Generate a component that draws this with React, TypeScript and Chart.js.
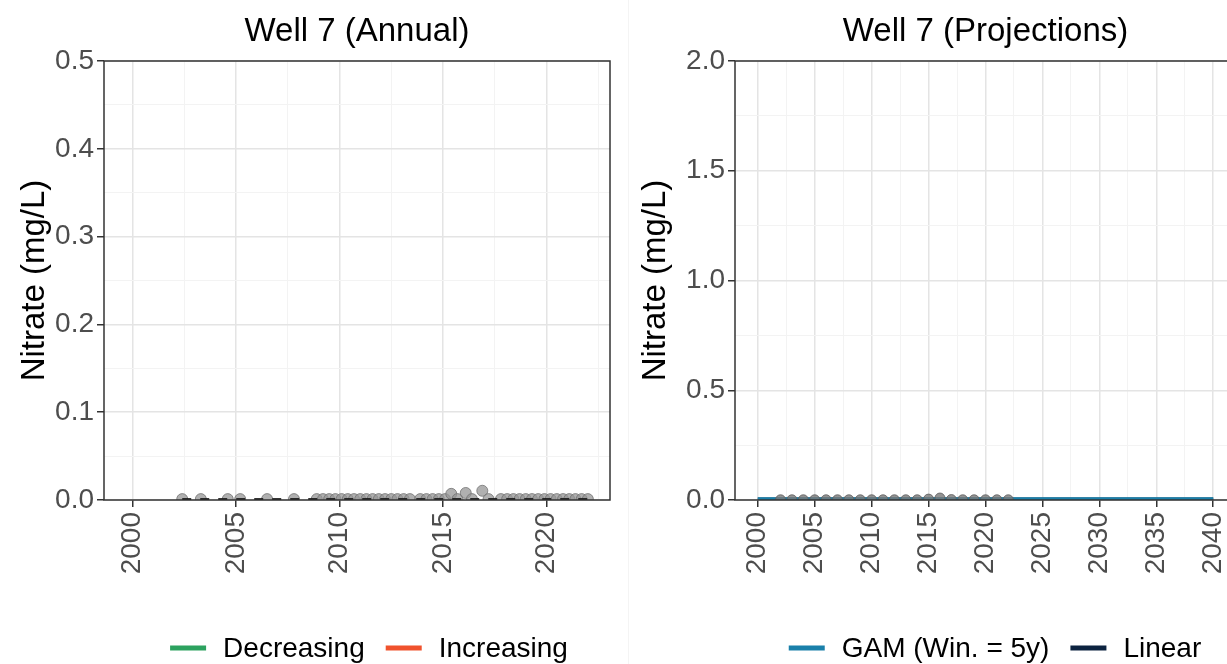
import React, { useEffect, useRef } from "react";
import { Chart, registerables } from "chart.js";

Chart.register(...registerables);

const FONT = "'Liberation Sans', Arial, Helvetica, sans-serif";

// ---------- Left panel: Well 7 (Annual) ----------
const annualYears = [
  2002.4, 2003.3, 2004.6, 2005.2, 2006.5, 2007.8, 2008.9, 2009.2, 2009.5, 2009.8,
  2010.1, 2010.4, 2010.7, 2011.0, 2011.3, 2011.6, 2011.9, 2012.2, 2012.5, 2012.8,
  2013.1, 2013.4, 2013.9, 2014.2, 2014.5, 2014.8, 2015.1, 2015.4, 2015.7, 2016.1,
  2016.4, 2016.9, 2017.2, 2017.8, 2018.1, 2018.4, 2018.7, 2019.0, 2019.3, 2019.6,
  2019.9, 2020.2, 2020.5, 2020.8, 2021.1, 2021.4, 2021.7, 2022.0,
];
const annualValues = [
  0.001, 0.001, 0.001, 0.001, 0.001, 0.001, 0.001, 0.001, 0.001, 0.001,
  0.001, 0.001, 0.001, 0.001, 0.001, 0.001, 0.001, 0.001, 0.001, 0.001,
  0.001, 0.001, 0.001, 0.001, 0.001, 0.001, 0.001, 0.007, 0.001, 0.008,
  0.001, 0.0105, 0.001, 0.001, 0.001, 0.001, 0.001, 0.001, 0.001, 0.001,
  0.001, 0.001, 0.001, 0.001, 0.001, 0.001, 0.001, 0.001,
];
const trendYears = [2002.4, 2022.0];
const trendValues = [0.001, 0.001];
const annualXTicks = [
  2000, 2002.5, 2005, 2007.5, 2010, 2012.5, 2015, 2017.5, 2020, 2022.5,
];
const annualYTicks = [0, 0.05, 0.1, 0.15, 0.2, 0.25, 0.3, 0.35, 0.4, 0.45, 0.5];

// ---------- Right panel: Well 7 (Projections) ----------
const projYears = [
  2002, 2003, 2004, 2005, 2006, 2007, 2008, 2009, 2010, 2011, 2012,
  2013, 2014, 2015, 2016, 2017, 2018, 2019, 2020, 2021, 2022,
];
const projValues = [
  0.001, 0.001, 0.001, 0.001, 0.001, 0.001, 0.001, 0.001, 0.001, 0.001, 0.001,
  0.001, 0.001, 0.004, 0.009, 0.002, 0.001, 0.001, 0.001, 0.001, 0.001,
];
const gamYears = [2000, 2010, 2020, 2030, 2040];
const gamValues = [0.006, 0.006, 0.006, 0.006, 0.006];
const linearYears = [2000, 2040];
const linearValues = [0.004, 0.004];
const projXTicks = [
  2000, 2002.5, 2005, 2007.5, 2010, 2012.5, 2015, 2017.5, 2020, 2022.5, 2025,
  2027.5, 2030, 2032.5, 2035, 2037.5, 2040,
];
const projYTicks = [0, 0.25, 0.5, 0.75, 1, 1.25, 1.5, 1.75, 2];

const MAJOR = "#e4e4e4";
const MINOR = "#f3f3f3";

const toXY = (xs: number[], ys: number[]) => xs.map((x, i) => ({ x, y: ys[i] }));

function zeroPad(s: any) {
  s.paddingLeft = 0;
  s.paddingRight = 0;
  s.paddingTop = 0;
  s.paddingBottom = 0;
}

function gridOpts() {
  return {
    color: (c: any) => (c.index % 2 === 0 ? MAJOR : MINOR),
    lineWidth: (c: any) => (c.index % 2 === 0 ? 1.5 : 1),
    tickColor: (c: any) => (c.index % 2 === 0 ? "#333333" : "rgba(0,0,0,0)"),
    tickLength: 7,
    tickWidth: 1.5,
    drawTicks: true,
  };
}

function xAxis(min: number, max: number, ticks: number[]) {
  return {
    type: "linear",
    min,
    max,
    afterBuildTicks: (s: any) => {
      s.ticks = ticks.map((v) => ({ value: v }));
    },
    afterFit: (s: any) => {
      s.height = 164;
      zeroPad(s);
    },
    grid: gridOpts(),
    border: { display: false },
    ticks: {
      autoSkip: false,
      minRotation: 90,
      maxRotation: 90,
      padding: 5,
      color: "#4d4d4d",
      font: { size: 28, family: FONT },
      callback: (v: any, i: number) => (i % 2 === 0 ? String(v) : ""),
    },
  };
}

function yAxis(min: number, max: number, ticks: number[], width: number) {
  return {
    type: "linear",
    min,
    max,
    afterBuildTicks: (s: any) => {
      s.ticks = ticks.map((v) => ({ value: v }));
    },
    afterFit: (s: any) => {
      s.width = width;
      zeroPad(s);
    },
    grid: gridOpts(),
    border: { display: false },
    ticks: {
      autoSkip: false,
      padding: 3,
      color: "#4d4d4d",
      font: { size: 28, family: FONT },
      callback: (v: any, i: number) => (i % 2 === 0 ? Number(v).toFixed(1) : ""),
    },
    title: {
      display: true,
      text: "Nitrate (mg/L)",
      color: "#000000",
      font: { size: 33, family: FONT },
      padding: { top: 4, bottom: 4 },
    },
  };
}

function decorPlugin(title: string, legendCenter: number) {
  return {
    id: "decor",
    afterDraw(chart: any) {
      const { ctx, chartArea: a } = chart;
      ctx.save();
      // panel border
      ctx.strokeStyle = "#333333";
      ctx.lineWidth = 1.5;
      ctx.strokeRect(a.left, a.top, a.right - a.left, a.bottom - a.top);
      // title
      ctx.fillStyle = "#000000";
      ctx.font = `33px ${FONT}`;
      ctx.textAlign = "center";
      ctx.textBaseline = "alphabetic";
      ctx.fillText(title, (a.left + a.right) / 2, 41);
      // legend
      const items = chart.data.datasets.filter((d: any) => d.inLegend);
      ctx.font = `28px ${FONT}`;
      const sw = 36;
      const gap = 17;
      const itemGap = 21;
      const widths = items.map((d: any) => ctx.measureText(d.label).width);
      const total =
        widths.reduce((acc: number, w: number) => acc + sw + gap + w, 0) +
        itemGap * (items.length - 1);
      let x = legendCenter - total / 2;
      const y = 648;
      ctx.textAlign = "left";
      items.forEach((d: any, i: number) => {
        ctx.strokeStyle = d.borderColor;
        ctx.lineWidth = 5;
        ctx.beginPath();
        ctx.moveTo(x, y);
        ctx.lineTo(x + sw, y);
        ctx.stroke();
        ctx.fillStyle = "#000000";
        ctx.fillText(d.label, x + sw + gap, 657);
        x += sw + gap + widths[i] + itemGap;
      });
      ctx.restore();
    },
  };
}

function baseOptions(scales: any, pad: any) {
  return {
    animation: false,
    responsive: false,
    events: [],
    layout: { padding: pad },
    plugins: { legend: { display: false }, tooltip: { enabled: false }, title: { display: false } },
    scales,
  };
}

function annualConfig(): any {
  return {
    type: "scatter",
    data: {
      datasets: [
        {
          label: "Trend",
          data: toXY(trendYears, trendValues),
          showLine: true,
          borderColor: "#1a1a1a",
          borderWidth: 2,
          borderDash: [9, 9],
          pointRadius: 0,
          order: 0,
        },
        {
          label: "Samples",
          data: toXY(annualYears, annualValues),
          backgroundColor: "rgba(150,150,150,0.75)",
          borderColor: "rgba(115,115,115,0.8)",
          borderWidth: 1,
          pointRadius: 5.5,
          showLine: false,
          order: 1,
        },
        { label: "Decreasing", data: [], borderColor: "#2ca25f", inLegend: true, order: 2 },
        { label: "Increasing", data: [], borderColor: "#f0522d", inLegend: true, order: 3 },
      ],
    },
    options: baseOptions(
      { x: xAxis(1998.62, 2023.07, annualXTicks), y: yAxis(0, 0.5, annualYTicks, 93) },
      { left: 11, right: 18, top: 61, bottom: 0 }
    ),
    plugins: [decorPlugin("Well 7 (Annual)", 369)],
  };
}

function projConfig(): any {
  return {
    type: "scatter",
    data: {
      datasets: [
        {
          label: "Annual mean",
          data: toXY(projYears, projValues),
          backgroundColor: "rgba(120,120,120,0.8)",
          borderColor: "rgba(95,95,95,0.8)",
          borderWidth: 1,
          pointRadius: 5,
          showLine: false,
          order: 0,
        },
        {
          label: "GAM (Win. = 5y)",
          data: toXY(gamYears, gamValues),
          showLine: true,
          borderColor: "#1a80aa",
          borderWidth: 3,
          pointRadius: 0,
          inLegend: true,
          order: 1,
        },
        {
          label: "Linear",
          data: toXY(linearYears, linearValues),
          showLine: true,
          borderColor: "#0c2340",
          borderWidth: 3,
          pointRadius: 0,
          inLegend: true,
          order: 2,
        },
      ],
    },
    options: baseOptions(
      { x: xAxis(1998, 2042, projXTicks), y: yAxis(0, 2, projYTicks, 103) },
      { left: 3, right: 15, top: 61, bottom: 0 }
    ),
    plugins: [decorPlugin("Well 7 (Projections)", 366)],
  };
}

function Panel({ make, left, width }: { make: () => any; left: number; width: number }) {
  const ref = useRef<HTMLCanvasElement>(null);
  useEffect(() => {
    const chart = new Chart(ref.current as HTMLCanvasElement, make());
    return () => chart.destroy();
  }, []);
  return (
    <canvas
      ref={ref}
      width={width}
      height={664}
      style={{ position: "absolute", left, top: 0, width, height: 664, display: "block" }}
    />
  );
}

export default function App() {
  return (
    <div
      style={{
        position: "fixed",
        left: 0,
        top: 0,
        width: 1227,
        height: 664,
        overflow: "hidden",
        background: "#ffffff",
      }}
    >
      <Panel make={annualConfig} left={0} width={628} />
      <div
        style={{ position: "absolute", left: 628, top: 0, width: 1, height: 664, background: "#f4f4f4" }}
      />
      <Panel make={projConfig} left={629} width={622} />
    </div>
  );
}
